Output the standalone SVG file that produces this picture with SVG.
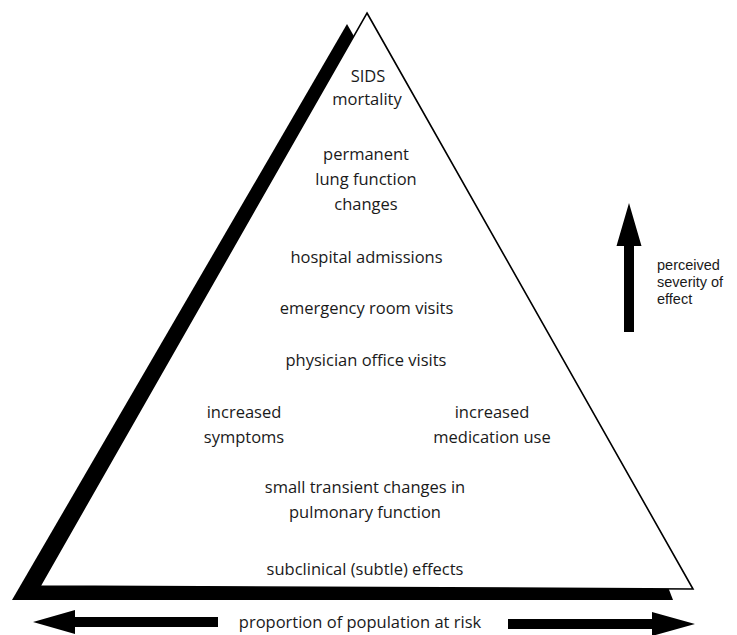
<svg xmlns="http://www.w3.org/2000/svg" width="737" height="635" viewBox="0 0 737 635">
<style>
.t{font-family:"Open Sans","Liberation Sans",sans-serif;font-size:16.5px;fill:#1a1a1a;text-anchor:middle}
.s{font-family:"Liberation Sans",Arial,sans-serif;font-size:14.5px;fill:#1a1a1a}
.arrow{fill:#000}
</style>
<rect width="737" height="635" fill="#fff"/>
<g id="pyramid">
<polygon points="347,24 12,600 673,600 668,587" fill="#000"/>
<polygon points="367,13 693,589 40,586" fill="#fff" stroke="#000" stroke-width="1.6" stroke-linejoin="miter"/>
</g>
<g id="sids"><text class="t" x="368" y="82">SIDS</text><text class="t" x="367" y="105">mortality</text></g>
<g id="permanent"><text class="t" x="366" y="160">permanent</text><text class="t" x="366" y="185">lung function</text><text class="t" x="366" y="210">changes</text></g>
<g id="hospital"><text class="t" x="366.5" y="263">hospital admissions</text></g>
<g id="emergency"><text class="t" x="366.5" y="314">emergency room visits</text></g>
<g id="physician"><text class="t" x="366" y="366">physician office visits</text></g>
<g id="symptoms"><text class="t" x="244" y="418">increased</text><text class="t" x="244" y="443">symptoms</text></g>
<g id="medication"><text class="t" x="492" y="418">increased</text><text class="t" x="492" y="443">medication use</text></g>
<g id="transient"><text class="t" x="365" y="493">small transient changes in</text><text class="t" x="365" y="518">pulmonary function</text></g>
<g id="subclinical"><text class="t" x="365" y="575">subclinical (subtle) effects</text></g>
<g id="severity-label"><text class="s" x="657" y="270">perceived</text><text class="s" x="657" y="287">severity of</text><text class="s" x="657" y="304">effect</text></g>
<g id="population-label"><text class="t" x="360" y="628">proportion of population at risk</text></g>
<g id="connectors">
<polygon class="arrow" points="629,203 641.5,246 634,246 634,332 624,332 624,246 616.5,246"/>
<polygon class="arrow" points="33,622 75,610 75,617 218,617 218,627 75,627 75,634"/>
<polygon class="arrow" points="695,624 652,612 652,619 508,619 508,629 652,629 652,636"/>
</g>
</svg>
